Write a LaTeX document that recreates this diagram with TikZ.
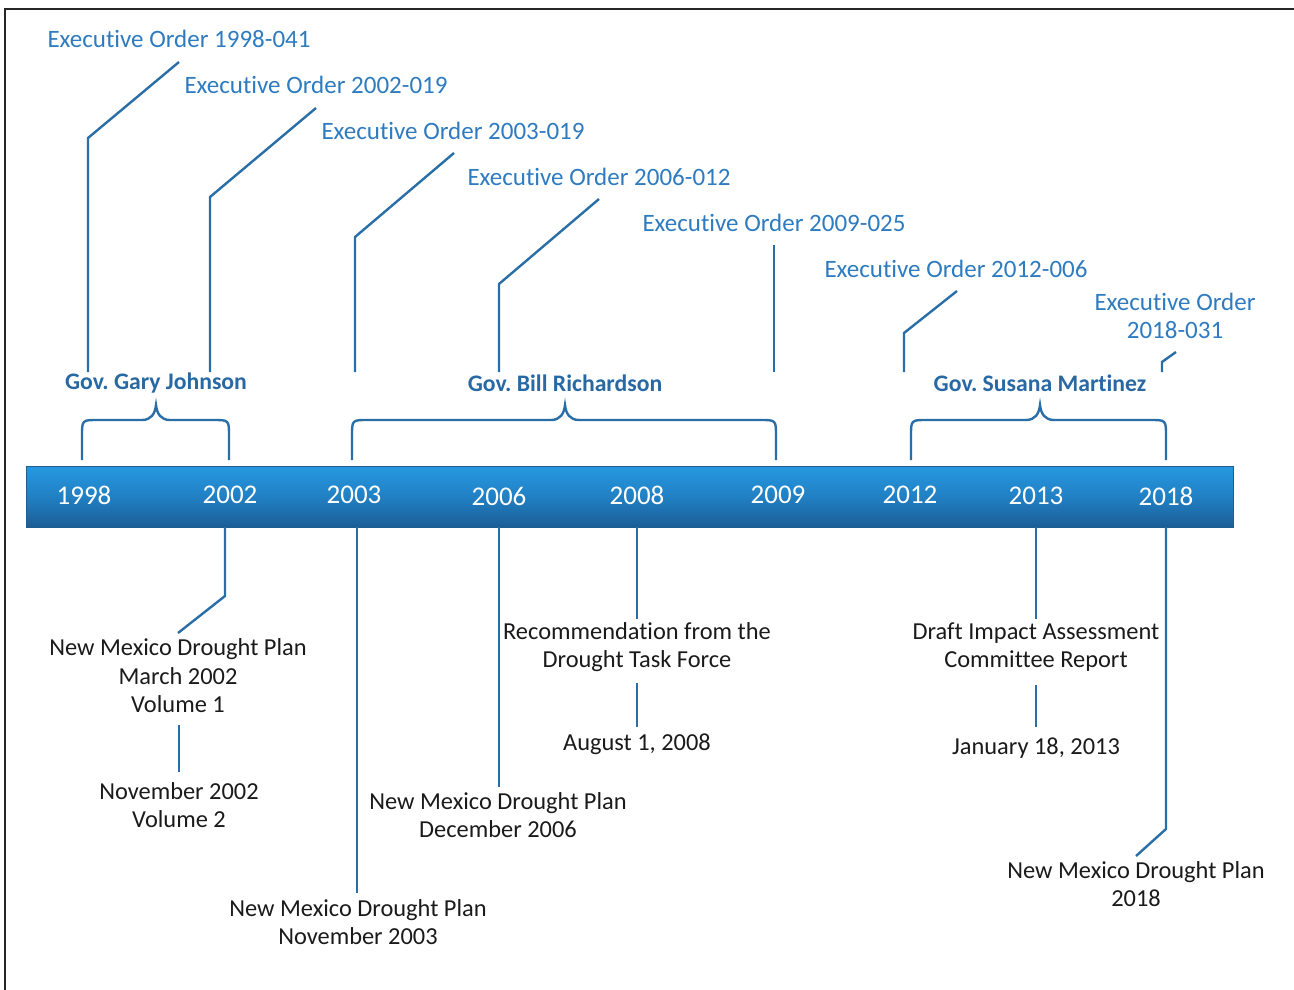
\documentclass[tikz,border=0pt]{standalone}
\usepackage{fontspec}
\setmainfont[RawFeature={-liga;-clig;-dlig}]{Carlito}
\definecolor{eoblue}{HTML}{2E7BBF}
\definecolor{linkblue}{HTML}{2A6EA8}
\definecolor{govblue}{HTML}{2868A3}
\definecolor{bartop}{HTML}{2698E0}
\definecolor{barmid}{HTML}{2180C4}
\definecolor{barbot}{HTML}{1B5E96}
\definecolor{barline}{HTML}{1F5C8F}
\definecolor{ink}{HTML}{1A1A1A}
\frenchspacing
\begin{document}
\begin{tikzpicture}[x=1pt,y=-1pt,
  eo/.style={text=eoblue, font=\fontsize{25}{28.5}\selectfont, inner sep=0pt, align=center},
  gov/.style={text=govblue, font=\bfseries\fontsize{23.7}{27}\selectfont, inner sep=0pt},
  yr/.style={text=white, font=\fontsize{27}{30}\selectfont, inner sep=0pt},
  note/.style={text=ink, font=\fontsize{24.4}{28.5}\selectfont, inner sep=0pt, align=center},
  conn/.style={draw=linkblue, line width=2.4pt},
  bracepath/.style={draw=linkblue, line width=2.4pt},
  frame/.style={draw=black!85, line width=1.3pt}]
\useasboundingbox (0,0) rectangle (1294,990);
% frame
\coordinate (fbl) at (5,990); \coordinate (ftl) at (5,9); \coordinate (ftr) at (1294,9);
\draw[frame] (fbl) -- (ftl) -- (ftr);
% timeline bar
\node[draw=barline, line width=1pt, top color=bartop, bottom color=barbot, middle color=barmid,
  minimum width=1207pt, minimum height=61pt, inner sep=0pt] (bar) at (629.5,496.5) {};
% years
\node[yr] (y1998) at (84,495) {1998};
\node[yr] (y2002) at (230,495) {2002};
\node[yr] (y2003) at (354,495) {2003};
\node[yr] (y2006) at (499,496) {2006};
\node[yr] (y2008) at (637,495) {2008};
\node[yr] (y2009) at (778,495) {2009};
\node[yr] (y2012) at (910,495) {2012};
\node[yr] (y2013) at (1036,496) {2013};
\node[yr] (y2018) at (1166,496) {2018};
% executive orders
\node[eo] (eo1) at (179,39) {Executive Order 1998-041};
\node[eo] (eo2) at (316,85) {Executive Order 2002-019};
\node[eo] (eo3) at (453,131) {Executive Order 2003-019};
\node[eo] (eo4) at (599,177) {Executive Order 2006-012};
\node[eo] (eo5) at (774,223) {Executive Order 2009-025};
\node[eo] (eo6) at (956,269) {Executive Order 2012-006};
\node[eo] (eo7) at (1175,316) {Executive Order\\2018-031};
% governors
\node[gov] (g1) at (156,383) {Gov. Gary Johnson};
\node[gov] (g2) at (565,383) {Gov. Bill Richardson};
\node[gov] (g3) at (1040,383) {Gov. Susana Martinez};
% EO connectors
\coordinate (a1) at (179,62);  \coordinate (b1) at (88,138);  \coordinate (c1) at (88,372);
\coordinate (a2) at (316,108); \coordinate (b2) at (210,197); \coordinate (c2) at (210,372);
\coordinate (a3) at (454,153); \coordinate (b3) at (355,237); \coordinate (c3) at (355,372);
\coordinate (a4) at (599,199); \coordinate (b4) at (499,284); \coordinate (c4) at (499,372);
\coordinate (a5) at (774,245); \coordinate (c5) at (774,372);
\coordinate (a6) at (957,291); \coordinate (b6) at (904,333); \coordinate (c6) at (904,372);
\coordinate (a7) at (1176,352); \coordinate (b7) at (1162,362); \coordinate (c7) at (1162,372);
\draw[conn] (a1) -- (b1) -- (c1);
\draw[conn] (a2) -- (b2) -- (c2);
\draw[conn] (a3) -- (b3) -- (c3);
\draw[conn] (a4) -- (b4) -- (c4);
\draw[conn] (a5) -- (c5);
\draw[conn] (a6) -- (b6) -- (c6);
\draw[conn] (a7) -- (b7) -- (c7);
% braces
\foreach \xa/\xp/\xb in {82/156/229, 352/565/776, 911/1040/1166}{
  \draw[bracepath] (\xa,460) -- (\xa,436) .. controls (\xa,420) .. (\xa+16,420)
    -- (\xp-14,420) .. controls (\xp-5,420) and (\xp-1,414) .. (\xp,405)
    .. controls (\xp+1,414) and (\xp+5,420) .. (\xp+14,420)
    -- (\xb-16,420) .. controls (\xb,420) .. (\xb,436) -- (\xb,460);
}
% bottom notes
\node[note] (n1) at (178,676) {New Mexico Drought Plan\\March 2002\\Volume 1};
\node[note] (n1b) at (179,805) {November 2002\\Volume 2};
\node[note] (n2) at (358,922) {New Mexico Drought Plan\\November 2003};
\node[note] (n3) at (498,815) {New Mexico Drought Plan\\December 2006};
\node[note] (n4) at (637,647) {Recommendation from the\\Drought Task Force};
\node[note] (n4b) at (637,744) {August 1, 2008};
\node[note] (n5) at (1036,647) {Draft Impact Assessment\\Committee Report};
\node[note] (n5b) at (1036,748) {January 18, 2013};
\node[note] (n6) at (1136,884) {New Mexico Drought Plan\\2018};
% bottom connectors
\coordinate (d1) at (225,527); \coordinate (e1) at (225,596); \coordinate (f1) at (178,633);
\draw[conn] (d1) -- (e1) -- (f1);
\coordinate (d1b) at (179,725); \coordinate (e1b) at (179,772);
\draw[conn] (d1b) -- (e1b);
\coordinate (d2) at (357,527); \coordinate (e2) at (357,893);
\draw[conn] (d2) -- (e2);
\coordinate (d3) at (499,527); \coordinate (e3) at (499,787);
\draw[conn] (d3) -- (e3);
\coordinate (d4) at (637,527); \coordinate (e4) at (637,619);
\draw[conn] (d4) -- (e4);
\coordinate (d4b) at (637,683); \coordinate (e4b) at (637,727);
\draw[conn] (d4b) -- (e4b);
\coordinate (d5) at (1036,527); \coordinate (e5) at (1036,619);
\draw[conn] (d5) -- (e5);
\coordinate (d5b) at (1036,685); \coordinate (e5b) at (1036,727);
\draw[conn] (d5b) -- (e5b);
\coordinate (d6) at (1166,527); \coordinate (e6) at (1166,829); \coordinate (f6) at (1136,856);
\draw[conn] (d6) -- (e6) -- (f6);
\end{tikzpicture}
\end{document}
